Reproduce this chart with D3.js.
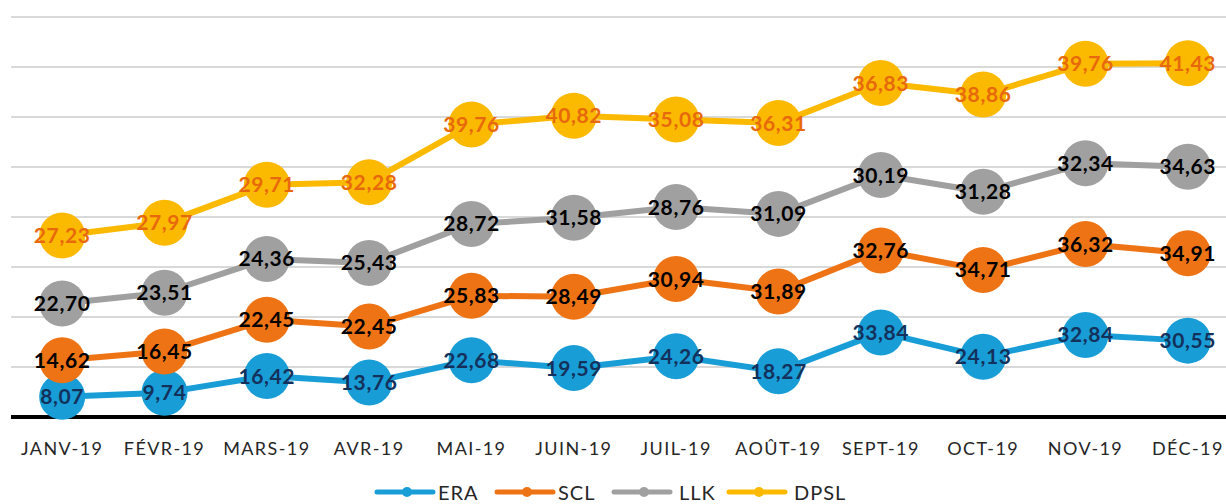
<!DOCTYPE html>
<html>
<head>
<meta charset="utf-8">
<script src="https://cdn.jsdelivr.net/npm/d3@7"></script>
<style>
  body { margin: 0; background: #fff; }
  svg { display: block; font-family: Lato, "Open Sans", sans-serif; }
</style>
</head>
<body>
<svg id="chart" width="1226" height="504"></svg>
<script>
"use strict";

var months = ["JANV-19", "FÉVR-19", "MARS-19", "AVR-19", "MAI-19", "JUIN-19",
    "JUIL-19", "AOÛT-19", "SEPT-19", "OCT-19", "NOV-19", "DÉC-19"];
var seriesNames = ["ERA", "SCL", "LLK", "DPSL"];
var era = [8.07, 9.74, 16.42, 13.76, 22.68, 19.59, 24.26, 18.27, 33.84, 24.13, 32.84, 30.55];
var scl = [14.62, 16.45, 22.45, 22.45, 25.83, 28.49, 30.94, 31.89, 32.76, 34.71, 36.32, 34.91];
var llk = [22.70, 23.51, 24.36, 25.43, 28.72, 31.58, 28.76, 31.09, 30.19, 31.28, 32.34, 34.63];
var dpsl = [27.23, 27.97, 29.71, 32.28, 39.76, 40.82, 35.08, 36.31, 36.83, 38.86, 39.76, 41.43];
var yTicks = [0, 20, 40, 60, 80, 100, 120, 140, 160];

var colors = ["#189dd7", "#ee7315", "#a0a0a0", "#fbb900"];
var labelColors = ["#14315c", "#000000", "#000000", "#e8690c"];

var svg = d3.select("#chart");

// stacked line chart: each series sits on top of the previous ones
var table = months.map(function (m, i) {
    return { month: m, ERA: era[i], SCL: scl[i], LLK: llk[i], DPSL: dpsl[i] };
});
var stacked = d3.stack().keys(seriesNames)(table);

var x = d3.scaleBand().domain(months).range([11, 1239]);
var y = d3.scaleLinear().domain([0, 160]).range([417, 17]);
var cx = function (d) { return x(d.data.month) + x.bandwidth() / 2; };

// gridlines
svg.append("g")
    .selectAll("line")
    .data(yTicks.slice(1))
    .join("line")
    .attr("x1", 11)
    .attr("x2", 1239)
    .attr("y1", function (d) { return y(d); })
    .attr("y2", function (d) { return y(d); })
    .attr("stroke", "#d9d9d9")
    .attr("stroke-width", 2);

// baseline
svg.append("line")
    .attr("x1", 11).attr("x2", 1239)
    .attr("y1", y(0)).attr("y2", y(0))
    .attr("stroke", "#000")
    .attr("stroke-width", 4);

// category labels
svg.append("g")
    .selectAll("text")
    .data(months)
    .join("text")
    .attr("x", function (d) { return x(d) + x.bandwidth() / 2; })
    .attr("y", 455)
    .attr("text-anchor", "middle")
    .attr("font-size", 18)
    .attr("letter-spacing", 1.4)
    .attr("fill", "#262626")
    .text(function (d) { return d; });

var line = d3.line()
    .x(cx)
    .y(function (d) { return y(d[1]); });

stacked.forEach(function (s, k) {
    var g = svg.append("g");
    g.append("path")
        .attr("d", line(s))
        .attr("fill", "none")
        .attr("stroke", colors[k])
        .attr("stroke-width", 6)
        .attr("stroke-linejoin", "round");
    g.selectAll("circle")
        .data(s)
        .join("circle")
        .attr("cx", cx)
        .attr("cy", function (d) { return y(d[1]); })
        .attr("r", 23)
        .attr("fill", colors[k]);
});

var fmt = function (v) { return v.toFixed(2).replace(".", ","); };

stacked.forEach(function (s, k) {
    svg.append("g")
        .selectAll("text")
        .data(s)
        .join("text")
        .attr("x", cx)
        .attr("y", function (d) { return y(d[1]); })
        .attr("dy", "0.36em")
        .attr("text-anchor", "middle")
        .attr("font-size", 21)
        .attr("letter-spacing", 0.6)
        .attr("font-weight", "bold")
        .attr("fill", labelColors[k])
        .text(function (d) { return fmt(d.data[s.key]); });
});

// legend
var legendX = [377, 497, 614, 729];
var legendTextX = [61, 61, 65, 65];
var legend = svg.append("g")
    .selectAll("g")
    .data(seriesNames)
    .join("g")
    .attr("transform", function (d, i) { return "translate(" + legendX[i] + ",492)"; });
legend.append("line")
    .attr("x1", 0).attr("x2", 56)
    .attr("stroke", function (d, i) { return colors[i]; })
    .attr("stroke-width", 5)
    .attr("stroke-linecap", "round");
legend.append("circle")
    .attr("cx", 30)
    .attr("r", 5)
    .attr("fill", function (d, i) { return colors[i]; });
legend.append("text")
    .attr("x", function (d, i) { return legendTextX[i]; })
    .attr("y", 8)
    .attr("font-size", 20)
    .attr("letter-spacing", 1)
    .attr("fill", "#262626")
    .text(function (d) { return d; });
</script>
</body>
</html>
